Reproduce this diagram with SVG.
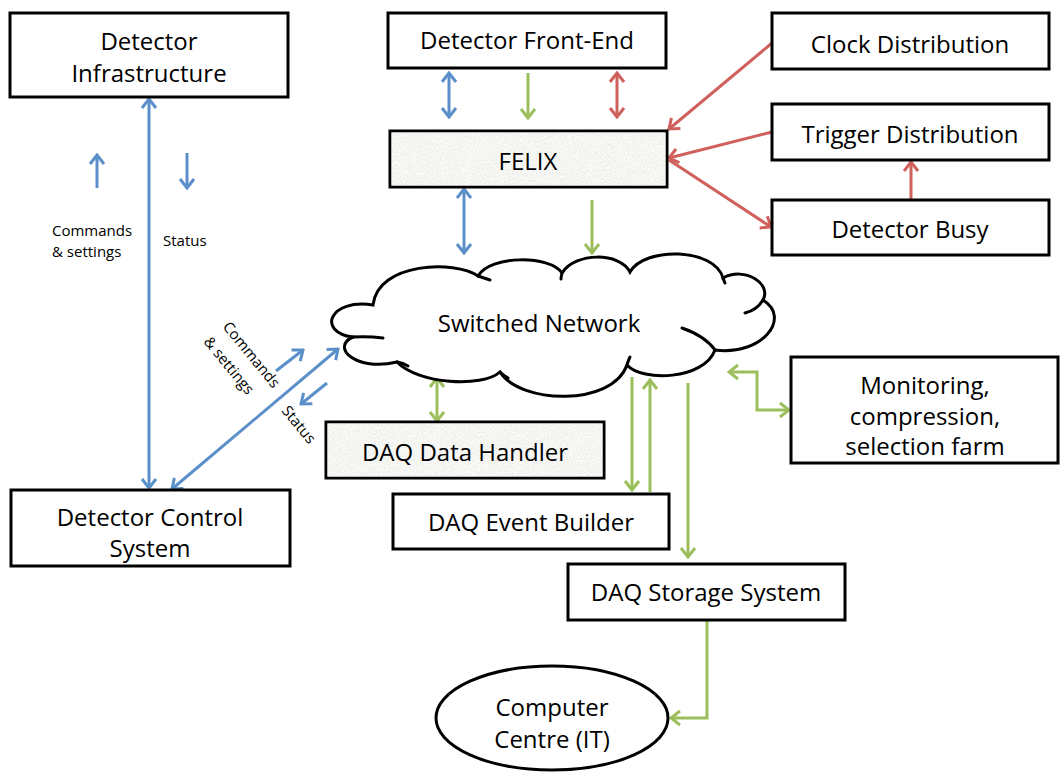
<svg xmlns="http://www.w3.org/2000/svg" width="1060" height="772" viewBox="0 0 1060 772">
<style>
.box{fill:#fff;stroke:#000;stroke-width:3}
.tex{stroke:#000;stroke-width:3}
.t{font-family:"Open Sans","Liberation Sans",sans-serif;font-size:24px;fill:#000;text-anchor:middle}
.s{font-family:"Open Sans","Liberation Sans",sans-serif;font-size:15px;fill:#000}
.b{stroke:#5b8fca;stroke-width:3;fill:none}
.g{stroke:#9cbf5c;stroke-width:3;fill:none}
.r{stroke:#d0605c;stroke-width:3;fill:none}
.cl{fill:none;stroke:#000;stroke-width:3;stroke-linecap:round}
</style>
<defs>
<filter id="noise" x="0" y="0" width="100%" height="100%">
<feTurbulence type="fractalNoise" baseFrequency="0.75" numOctaves="3" seed="4" result="n"/>
<feColorMatrix in="n" type="matrix" values="0.33 0.33 0.33 0 0 0.33 0.33 0.33 0 0 0.33 0.33 0.33 0 0 0 0 0 0 1" result="gr"/>
<feComponentTransfer in="gr" result="lt">
<feFuncR type="linear" slope="0.6" intercept="0.62"/>
<feFuncG type="linear" slope="0.6" intercept="0.62"/>
<feFuncB type="linear" slope="0.6" intercept="0.60"/>
</feComponentTransfer>
<feComposite in="lt" in2="SourceGraphic" operator="in"/>
</filter>
<marker id="mb" viewBox="-12 -9 14 18" refX="0" refY="0" markerWidth="14" markerHeight="18" markerUnits="userSpaceOnUse" orient="auto-start-reverse"><path d="M-9,-7 L0,0 L-9,7" fill="none" stroke="#5b8fca" stroke-width="3"/></marker>
<marker id="mg" viewBox="-12 -9 14 18" refX="0" refY="0" markerWidth="14" markerHeight="18" markerUnits="userSpaceOnUse" orient="auto-start-reverse"><path d="M-9,-7 L0,0 L-9,7" fill="none" stroke="#9cbf5c" stroke-width="3"/></marker>
<marker id="mr" viewBox="-12 -9 14 18" refX="0" refY="0" markerWidth="14" markerHeight="18" markerUnits="userSpaceOnUse" orient="auto-start-reverse"><path d="M-9,-7 L0,0 L-9,7" fill="none" stroke="#d0605c" stroke-width="3"/></marker>
</defs>
<rect width="1060" height="772" fill="#fff"/>

<g id="connectors">
<line class="b" x1="149" y1="99" x2="149" y2="488" marker-start="url(#mb)" marker-end="url(#mb)"/>
<line class="b" x1="172" y1="489" x2="338" y2="349" marker-start="url(#mb)" marker-end="url(#mb)"/>
<line class="b" x1="97" y1="188" x2="97" y2="155" marker-end="url(#mb)"/>
<line class="b" x1="187" y1="153" x2="187" y2="188" marker-end="url(#mb)"/>
<line class="b" x1="276" y1="371" x2="303" y2="350" marker-end="url(#mb)"/>
<line class="b" x1="327" y1="383" x2="301" y2="404" marker-end="url(#mb)"/>
<line class="b" x1="449" y1="73" x2="449" y2="117" marker-start="url(#mb)" marker-end="url(#mb)"/>
<line class="g" x1="528" y1="73" x2="528" y2="118" marker-end="url(#mg)"/>
<line class="r" x1="617" y1="73" x2="617" y2="117" marker-start="url(#mr)" marker-end="url(#mr)"/>
<line class="b" x1="464" y1="189" x2="464" y2="253" marker-start="url(#mb)" marker-end="url(#mb)"/>
<line class="g" x1="592" y1="200" x2="592" y2="253" marker-end="url(#mg)"/>
<line class="r" x1="772" y1="43" x2="669" y2="129" marker-end="url(#mr)"/>
<line class="r" x1="772" y1="132" x2="669" y2="158" marker-end="url(#mr)"/>
<line class="r" x1="669" y1="160" x2="771" y2="227" marker-end="url(#mr)"/>
<line class="r" x1="911" y1="200" x2="911" y2="162" marker-end="url(#mr)"/>
<line class="g" x1="437" y1="378" x2="437" y2="421" marker-start="url(#mg)" marker-end="url(#mg)"/>
<line class="g" x1="632" y1="377" x2="632" y2="490" marker-end="url(#mg)"/>
<line class="g" x1="650" y1="492" x2="650" y2="380" marker-end="url(#mg)"/>
<line class="g" x1="688" y1="383" x2="688" y2="557" marker-end="url(#mg)"/>
<path class="g" d="M729,372 H757 V410 H789" marker-start="url(#mg)" marker-end="url(#mg)"/>
<path class="g" d="M707,621 V718 H671" marker-end="url(#mg)"/>
</g>

<g id="labels">
<text class="s" x="52" y="236">Commands</text>
<text class="s" x="52" y="257">&amp; settings</text>
<text class="s" x="163" y="246">Status</text>
<text class="s" transform="translate(222,327) rotate(50.6)">Commands</text>
<text class="s" transform="translate(203,342) rotate(50.6)">&amp; settings</text>
<text class="s" transform="translate(281,411) rotate(50.6)">Status</text>
</g>

<g id="det-infra"><rect class="box" x="10" y="13" width="278" height="84"/><text class="t" x="149" y="50">Detector</text><text class="t" x="149" y="82">Infrastructure</text></g>
<g id="det-fe"><rect class="box" x="388" y="13" width="278" height="55"/><text class="t" x="527" y="49">Detector Front-End</text></g>
<g id="clock"><rect class="box" x="772" y="13" width="277" height="56"/><text class="t" x="910" y="53">Clock Distribution</text></g>
<g id="trigger"><rect class="box" x="772" y="104" width="277" height="56"/><text class="t" x="910" y="143">Trigger Distribution</text></g>
<g id="busy"><rect class="box" x="772" y="200" width="277" height="55"/><text class="t" x="910" y="238">Detector Busy</text></g>
<g id="felix"><rect class="tex" x="390" y="131" width="277" height="56" fill="#ebebe9"/><rect x="391.5" y="132.5" width="274" height="53" fill="#fff" filter="url(#noise)"/><text class="t" x="528" y="170">FELIX</text></g>
<g id="network">
<path d="M373,305 C330,298 316,332 353,337 C330,347 356,372 397,362 C418,384 482,388 500,372 C520,404 612,407 627,365 C642,382 704,380 715,350 C762,356 792,318 763,300 C772,284 745,266 723,278 C715,248 645,246 630,272 C620,252 575,252 562,273 C550,255 490,255 478,276 C455,260 378,262 373,305 Z" fill="#fff" stroke="#000" stroke-width="3"/>
<path class="cl" d="M353,337 Q368,336 383,338"/>
<path class="cl" d="M397,362 Q403,363 408,366"/>
<path class="cl" d="M500,372 Q503,375 508,378"/>
<path class="cl" d="M627,365 Q628,361 630,357"/>
<path class="cl" d="M682,328 Q705,336 715,350"/>
<path class="cl" d="M763,300 Q757,310 745,313"/>
<path class="cl" d="M478,276 Q484,278 490,280"/>
<path class="cl" d="M562,273 Q561,277 561,279"/>
<path class="cl" d="M723,278 Q724,281 725,283"/>
<text class="t" x="539" y="332">Switched Network</text>
</g>
<g id="data-handler"><rect class="tex" x="326" y="422" width="278" height="56" fill="#ebebe9"/><rect x="327.5" y="423.5" width="275" height="53" fill="#fff" filter="url(#noise)"/><text class="t" x="465" y="461">DAQ Data Handler</text></g>
<g id="event-builder"><rect class="box" x="393" y="494" width="276" height="55"/><text class="t" x="531" y="531">DAQ Event Builder</text></g>
<g id="storage"><rect class="box" x="568" y="564" width="277" height="56"/><text class="t" x="706" y="601">DAQ Storage System</text></g>
<g id="monitoring"><rect class="box" x="791" y="357" width="267" height="106"/><text class="t" x="925" y="394">Monitoring,</text><text class="t" x="925" y="425">compression,</text><text class="t" x="925" y="455">selection farm</text></g>
<g id="dcs"><rect class="box" x="11" y="490" width="279" height="76"/><text class="t" x="150" y="526">Detector Control</text><text class="t" x="150" y="557">System</text></g>
<g id="computer-centre"><ellipse cx="552" cy="718" rx="116" ry="52" fill="#fff" stroke="#000" stroke-width="3"/><text class="t" x="552" y="716">Computer</text><text class="t" x="552" y="748">Centre (IT)</text></g>
</svg>
